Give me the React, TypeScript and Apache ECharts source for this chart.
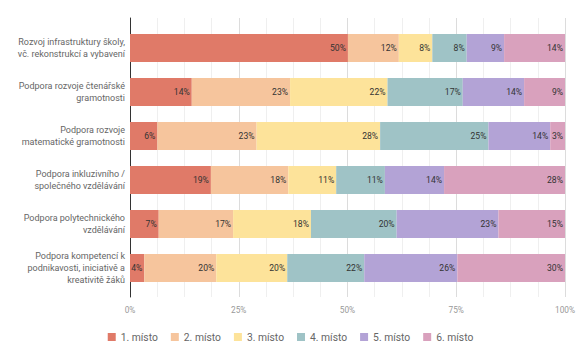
import React, { useEffect, useRef } from "react";
import * as echarts from "echarts";

const categories = [
  "Rozvoj infrastruktury školy,\nvč. rekonstrukcí a vybavení",
  "Podpora rozvoje čtenářské\ngramotnosti",
  "Podpora rozvoje\nmatematické gramotnosti",
  "Podpora inkluzivního /\nspolečného vzdělávání",
  "Podpora polytechnického\nvzdělávání",
  "Podpora kompetencí k\npodnikavosti, iniciativě a\nkreativitě žáků",
];

const seriesNames = ["1. místo", "2. místo", "3. místo", "4. místo", "5. místo", "6. místo"];
const colors = ["#e07a68", "#f6c59d", "#fde39a", "#9fc3c6", "#b3a3d6", "#d9a1bd"];

const place1 = [50.1, 14.2, 6.3, 18.6, 6.6, 4.0];
const place2 = [11.7, 22.6, 22.8, 17.8, 17.1, 20.2];
const place3 = [7.7, 22.4, 28.4, 11.0, 17.9, 19.9];
const place4 = [7.9, 17.3, 24.9, 11.2, 19.7, 21.6];
const place5 = [8.6, 14.1, 14.2, 13.6, 23.4, 26.1];
const place6 = [14.0, 9.4, 3.4, 27.8, 15.3, 30.2];

const places = [place1, place2, place3, place4, place5, place6];
const xTicks = [0, 25, 50, 75, 100];

export default function App() {
  const ref = useRef<HTMLDivElement>(null);
  useEffect(() => {
    if (!ref.current) return;
    const chart = echarts.init(ref.current, undefined, { renderer: "svg" });
    const totals = categories.map((_, i) => places.reduce((s, p) => s + p[i], 0));
    const font = "Roboto";
    chart.setOption({
      animation: false,
      textStyle: { fontFamily: font },
      legend: {
        left: "center",
        top: 327,
        icon: "rect",
        itemWidth: 8,
        itemHeight: 8,
        itemGap: 13,
        textStyle: { color: "#666", fontSize: 10.3, fontFamily: font },
        data: seriesNames,
      },
      grid: [
        { left: 130, right: 16, top: 26, height: 264 },
        { left: 130, right: 16, top: 18, height: 279 },
      ],
      xAxis: [
        { gridIndex: 0, type: "value", min: 0, max: 100, show: false },
        {
          gridIndex: 1,
          type: "value",
          min: xTicks[0],
          max: xTicks[xTicks.length - 1],
          interval: 25,
          axisLine: { show: false },
          axisTick: { show: false },
          axisLabel: { formatter: "{value}%", color: "#999", fontSize: 8.3, margin: 9, fontFamily: font },
          splitLine: { show: true, lineStyle: { color: "#dcdcdc", width: 1 } },
          minorTick: { show: false, splitNumber: 4 },
          minorSplitLine: { show: true, lineStyle: { color: "#efefef", width: 1 } },
        },
      ],
      yAxis: [
        {
          gridIndex: 0,
          type: "category",
          inverse: true,
          data: categories,
          axisLine: { show: false },
          axisTick: { show: false },
          axisLabel: { color: "#666", fontSize: 9, lineHeight: 11.7, margin: 5, fontFamily: font },
        },
        {
          gridIndex: 1,
          type: "value",
          min: 0,
          max: 1,
          axisLine: { show: true, lineStyle: { color: "#333", width: 1 } },
          axisTick: { show: false },
          axisLabel: { show: false },
          splitLine: { show: false },
        },
      ],
      series: places.map((p, si) => ({
        name: seriesNames[si],
        type: "bar",
        stack: "total",
        xAxisIndex: 0,
        yAxisIndex: 0,
        barWidth: 28,
        itemStyle: { color: colors[si] },
        data: p.map((v, i) => ({ value: (v / totals[i]) * 100, raw: v })),
        label: {
          show: true,
          position: "insideRight",
          distance: 2,
          color: "#333",
          fontSize: 8.6,
          fontFamily: font,
          formatter: (params: any) => Math.round(params.data.raw) + "%",
        },
      })),
    });
    return () => chart.dispose();
  }, []);
  return (
    <div
      ref={ref}
      style={{ position: "absolute", left: 0, top: 0, width: 581, height: 359 }}
    />
  );
}
